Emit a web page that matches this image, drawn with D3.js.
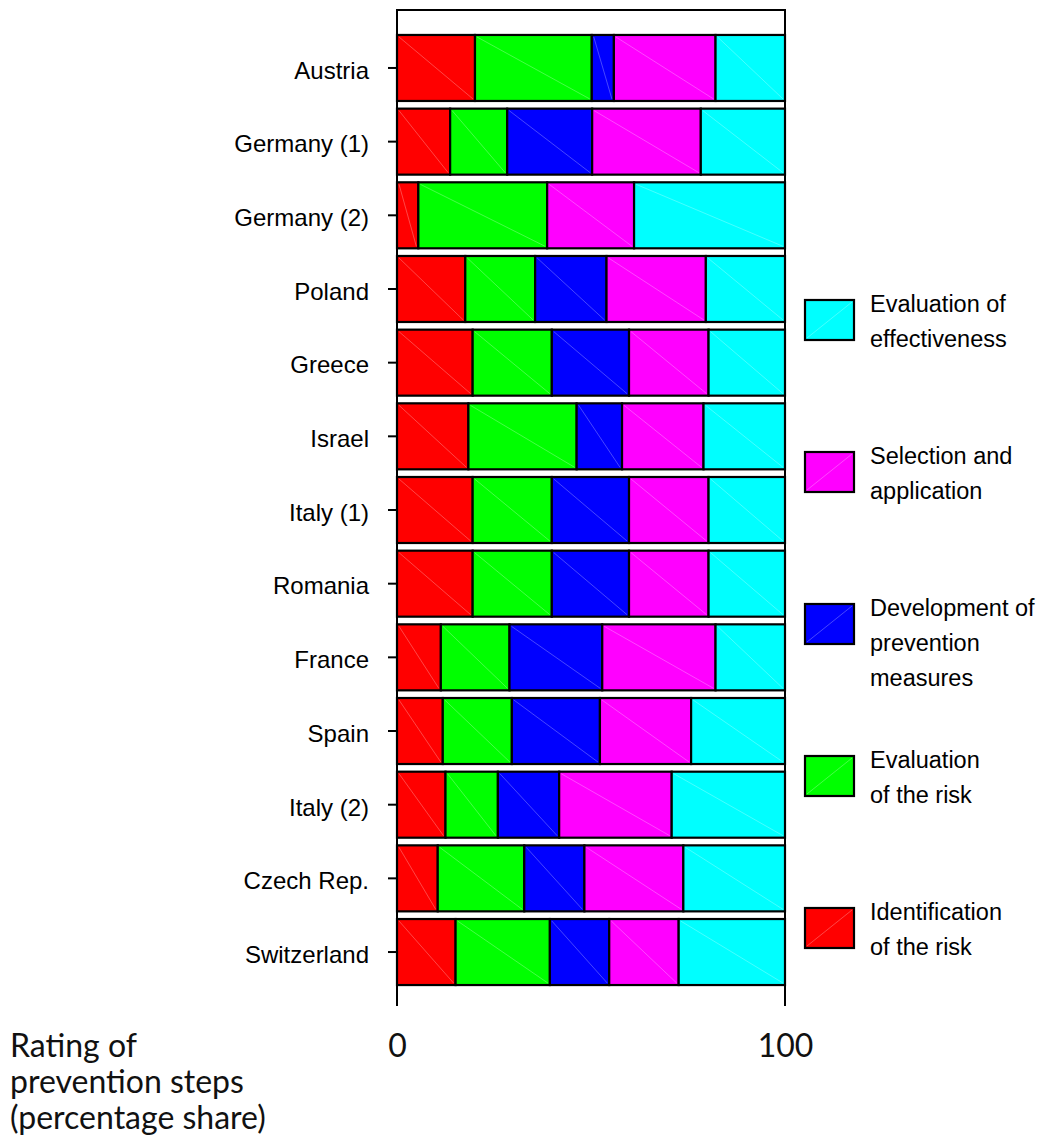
<!DOCTYPE html>
<html lang="en">
<head>
    <title>Rating of prevention steps</title>
    <style>
        body { margin: 0; background: #fff; }
        .country text { font-family: "Liberation Sans", Arial, sans-serif; font-size: 24px; fill: #000; }
        .legend text { font-family: "Liberation Sans", Arial, sans-serif; font-size: 23.5px; fill: #000; }
        .foot text { font-family: Lato, "Noto Sans", sans-serif; font-size: 32px; font-weight: 400; fill: #111; }
    </style>
    <script src="https://d3js.org/d3.v7.min.js"></script>
</head>
<body>
<script>

    // countries top to bottom
    const countries = ["Austria", "Germany (1)", "Germany (2)", "Poland", "Greece", "Israel",
        "Italy (1)", "Romania", "France", "Spain", "Italy (2)", "Czech Rep.", "Switzerland"];

    // prevention steps, left to right in the bars
    const steps = ["Identification of the risk", "Evaluation of the risk",
        "Development of prevention measures", "Selection and application", "Evaluation of effectiveness"];

    // percentage shares per step (same order as countries)
    const identification = [20.1, 13.7, 5.5, 17.6, 19.5, 18.4, 19.5, 19.5, 11.3, 11.8, 12.5, 10.5, 15.1];
    const evalRisk       = [30.1, 14.7, 33.2, 18.0, 20.4, 27.9, 20.4, 20.4, 17.7, 17.8, 13.5, 22.3, 24.3];
    const development    = [5.7, 21.9, 0.0, 18.4, 19.9, 11.7, 19.9, 19.9, 23.9, 22.7, 15.8, 15.5, 15.3];
    const selection      = [26.2, 28.0, 22.4, 25.6, 20.5, 21.0, 20.5, 20.5, 29.2, 23.5, 29.0, 25.5, 17.9];
    const effectiveness  = [17.9, 21.7, 38.9, 20.4, 19.7, 21.0, 19.7, 19.7, 17.9, 24.2, 29.2, 26.2, 27.4];

    const colors = ["#ff0000", "#00ff00", "#0000ff", "#ff00ff", "#00ffff"];

    // legend, top to bottom (reverse of stacking), with line breaks
    const legendLines = [
        ["Evaluation of", "effectiveness"],
        ["Selection and", "application"],
        ["Development of", "prevention", "measures"],
        ["Evaluation", "of the risk"],
        ["Identification", "of the risk"]
    ];

    const footLines = ["Rating of", "prevention steps", "(percentage share)"];
    const xTicks = [0, 100];

    // build rows for the stack
    const rows = countries.map((c, i) => ({
        country: c,
        [steps[0]]: identification[i],
        [steps[1]]: evalRisk[i],
        [steps[2]]: development[i],
        [steps[3]]: selection[i],
        [steps[4]]: effectiveness[i]
    }));

    const width = 1042, height = 1140;
    const frameTop = 10, frameBottom = 1006;

    const svg = d3.select("body")
        .append("svg")
        .attr("width", width)
        .attr("height", height);

    const x = d3.scaleLinear().domain([0, 100]).range([397, 785]);
    const y = d3.scaleBand().domain(countries).range([27.3, 992.7]).padding(0.104);

    const stacked = d3.stack().keys(steps)(rows);

    // frame: top line plus the two sides running down to the axis labels
    svg.append("path")
        .attr("d", `M${x(0)},${frameBottom}V${frameTop}H${x(100)}V${frameBottom}`)
        .attr("fill", "none")
        .attr("stroke", "#000")
        .attr("stroke-width", 2);

    // bars
    const layers = svg.selectAll("g.layer")
        .data(stacked)
        .join("g")
        .attr("class", "layer")
        .attr("fill", (d, i) => colors[i]);

    const seg = layers.selectAll("g.seg")
        .data(d => d.filter(v => v[1] - v[0] > 0))
        .join("g")
        .attr("class", "seg");

    seg.append("rect")
        .attr("x", d => x(d[0]))
        .attr("y", d => y(d.data.country))
        .attr("width", d => x(d[1]) - x(d[0]))
        .attr("height", y.bandwidth())
        .attr("stroke", "#000")
        .attr("stroke-width", 2.2);

    // faint diagonal inside each block
    seg.append("line")
        .attr("x1", d => x(d[0]) + 2)
        .attr("y1", d => y(d.data.country) + 2)
        .attr("x2", d => x(d[1]) - 2)
        .attr("y2", d => y(d.data.country) + y.bandwidth() - 2)
        .attr("stroke", "#fff")
        .attr("stroke-opacity", 0.35)
        .attr("stroke-width", 0.8);

    // country axis
    svg.append("g")
        .attr("class", "country")
        .attr("transform", `translate(${x(0)},0)`)
        .call(d3.axisLeft(y).tickSize(9).tickSizeOuter(0).tickPadding(19))
        .call(g => g.select(".domain").remove())
        .call(g => g.selectAll(".tick line").attr("stroke-width", 2))
        .call(g => g.selectAll(".tick text").attr("dy", "0.45em")
            .attr("font-size", null).attr("font-family", null));

    // 0 / 100 labels
    svg.append("g")
        .attr("class", "foot")
        .attr("transform", `translate(0,${frameBottom})`)
        .call(d3.axisBottom(x).tickValues(xTicks).tickSize(0).tickPadding(28))
        .call(g => g.select(".domain").remove())
        .call(g => g.selectAll(".tick text").attr("font-size", null).attr("font-family", null));

    // axis title bottom left
    const foot = svg.append("g").attr("class", "foot");
    foot.selectAll("text")
        .data(footLines)
        .join("text")
        .attr("x", 10)
        .attr("y", (d, i) => 1057 + i * 36)
        .text(d => d);

    // legend
    const legend = svg.append("g").attr("class", "legend");
    const item = legend.selectAll("g")
        .data(legendLines)
        .join("g")
        .attr("transform", (d, i) => `translate(805,${300 + i * 152})`);

    item.append("rect")
        .attr("width", 49)
        .attr("height", 40)
        .attr("fill", (d, i) => colors[colors.length - 1 - i])
        .attr("stroke", "#000")
        .attr("stroke-width", 2.2);

    item.append("line")
        .attr("x1", 2).attr("y1", 38)
        .attr("x2", 47).attr("y2", 2)
        .attr("stroke", "#fff")
        .attr("stroke-opacity", 0.35)
        .attr("stroke-width", 0.8);

    item.selectAll("text")
        .data(d => d)
        .join("text")
        .attr("x", 65)
        .attr("y", (d, i) => 12 + i * 35)
        .text(d => d);

</script>
</body>
</html>
